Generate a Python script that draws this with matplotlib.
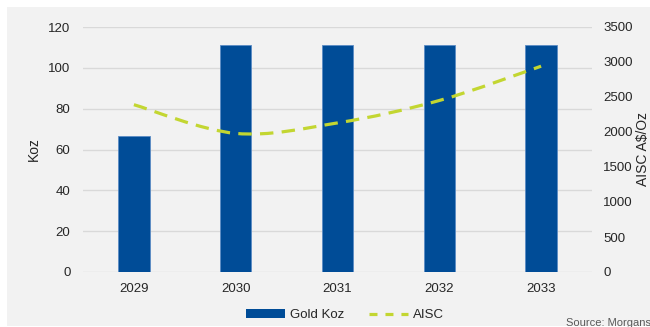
import matplotlib
matplotlib.use("Agg")
import matplotlib.pyplot as plt
from matplotlib.path import Path
from matplotlib.patches import PathPatch, Rectangle
from matplotlib.lines import Line2D
import numpy as np

plt.rcParams['font.family'] = ['Liberation Sans', 'DejaVu Sans']

years = ["2029", "2030", "2031", "2032", "2033"]
gold_koz = [66.7, 111, 111, 111, 111]
aisc = [2390, 1980, 2130, 2450, 2940]

BAR = "#004C97"
LINE = "#C3D631"
BG = "#F2F2F2"
GRID = "#D9D9D9"
TXT = "#262626"

fig = plt.figure(figsize=(6.5, 3.27), dpi=100)
fig.patches.append(Rectangle((7/650, 1/327), 1, 319/327, transform=fig.transFigure,
                             facecolor=BG, edgecolor='none', zorder=-10))

ax = fig.add_axes([83/650, 1-272/327, 509/650, 245/327])
ax.set_facecolor('none')
x = np.arange(len(years))
ax.bar(x, gold_koz, width=0.31, color=BAR, edgecolor="#5B8BC4", linewidth=0.6, zorder=3)
ax.set_xlim(-0.5, len(years)-0.5)
ax.set_ylim(0, 120)
ax.set_yticks(np.arange(0, 121, 20))
ax.set_xticks(x)
ax.set_xticklabels(years)
ax.grid(axis='y', color=GRID, linewidth=1)
ax.set_axisbelow(True)
for s in ax.spines.values():
    s.set_visible(False)
ax.tick_params(length=0, labelsize=9.5, colors=TXT)
ax.tick_params(axis='y', pad=9)
ax.tick_params(axis='x', pad=8)
ax.set_ylabel("Koz", fontsize=10, color=TXT, labelpad=5)

ax2 = ax.twinx()
ax2.set_ylim(0, 3500)
ax2.set_yticks(np.arange(0, 3501, 500))
for s in ax2.spines.values():
    s.set_visible(False)
ax2.tick_params(length=0, labelsize=9.5, colors=TXT, pad=8)
ax2.set_ylabel("AISC A$/Oz", fontsize=10, color=TXT, labelpad=2)

# smoothed line (Catmull-Rom rendered as cubic Bezier)
P = np.column_stack([x, aisc]).astype(float)
verts = [P[0]]
codes = [Path.MOVETO]
n = len(P)
for i in range(n-1):
    p0 = P[i-1] if i > 0 else P[i]
    p1, p2 = P[i], P[i+1]
    p3 = P[i+2] if i+2 < n else P[i+1]
    c1 = p1 + (p2 - p0) / 6
    c2 = p2 - (p3 - p1) / 6
    verts += [c1, c2, p2]
    codes += [Path.CURVE4]*3
path = Path(verts, codes)
ax2.add_patch(PathPatch(path, fill=False, edgecolor=LINE, linewidth=2.3,
                        linestyle=(0, (4.2, 2.6)), capstyle='butt', zorder=4))

handles = [Rectangle((0, 0), 1, 1, facecolor=BAR, edgecolor='none'),
           Line2D([0], [0], color=LINE, linewidth=2.3, linestyle=(0, (2.5, 2.5)))]
leg = fig.legend(handles, ["Gold Koz", "AISC"], loc='center', bbox_to_anchor=(345/650, 1-315/327),
                 ncol=2, frameon=False, fontsize=9.5, handlelength=3.0, handleheight=0.6,
                 columnspacing=1.8, handletextpad=0.4)
for t in leg.get_texts():
    t.set_color(TXT)

fig.text(566/650, 1-323/327, "Source: Morgans", fontsize=8, color="#595959", ha='left', va='center')

fig.savefig("out.png", dpi=100)
